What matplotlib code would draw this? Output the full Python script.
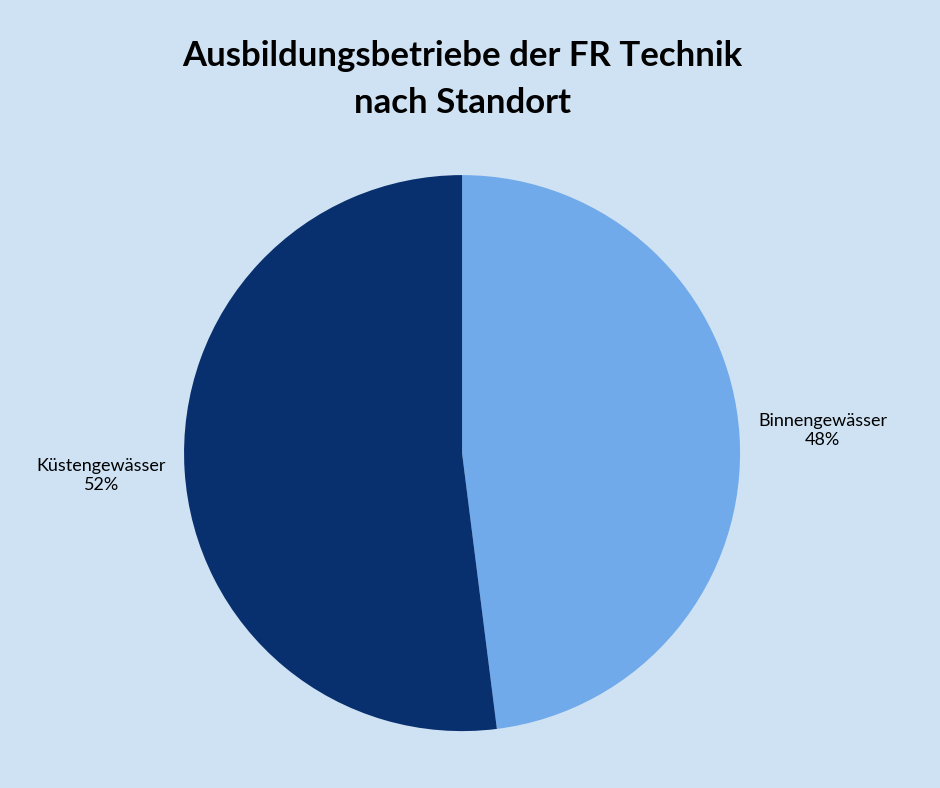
import matplotlib.pyplot as plt

labels = ['Binnengewässer', 'Küstengewässer']
shares = [48, 52]
colors = ['#70aaea', '#08306e']
bg = '#cfe2f3'

plt.rcParams['font.family'] = ['Lato', 'DejaVu Sans']

fig = plt.figure(figsize=(9.4, 7.88), dpi=100, facecolor=bg)
ax = fig.add_axes([0.1958, 0.0722, 0.5915, 0.7056])
ax.set_facecolor(bg)

texts = [f'{l}\n{v}%' for l, v in zip(labels, shares)]
ax.pie(shares, labels=texts, colors=colors, startangle=90, counterclock=False,
       labeldistance=1.3, textprops={'fontsize': 13, 'ha': 'center', 'color': 'black'})
ax.set_xlim(-1, 1)
ax.set_ylim(-1, 1)
ax.set_aspect('equal')
ax.axis('off')

fig.text(0.4915, 0.899, 'Ausbildungsbetriebe der FR Technik\nnach Standort',
         ha='center', va='center', fontsize=25, fontweight='bold', linespacing=1.6)

fig.savefig('out.png', dpi=100, facecolor=bg)
